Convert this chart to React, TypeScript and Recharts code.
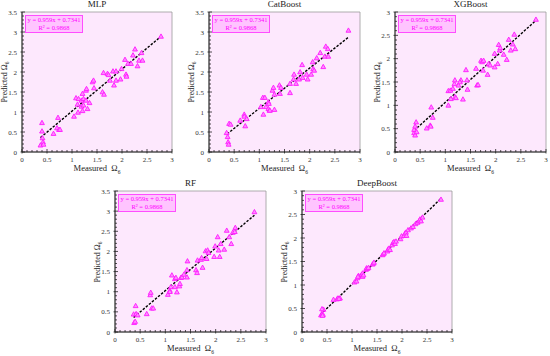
import React from "react";
import {
  ScatterChart,
  Scatter,
  XAxis,
  YAxis,
  ReferenceArea,
  ReferenceLine,
} from "recharts";

const FONT = '"Liberation Serif", "Times New Roman", serif';

const EQUATION = "y = 0.959x + 0.7341";
const R2_TEXT = "R² = 0.9868";

const X_MAX = 3;

const MLP_X = [0.37, 0.4, 0.4, 0.41, 0.42, 0.43, 0.63, 0.72, 0.7, 0.74, 0.76, 1.04, 1.08, 1.11, 1.13, 1.12, 1.19, 1.19, 1.21, 1.21, 1.23, 1.23, 1.28, 1.28, 1.29, 1.31, 1.35, 1.41, 1.43, 1.44, 1.61, 1.64, 1.63, 1.71, 1.73, 1.76, 1.82, 1.84, 1.88, 1.88, 1.97, 1.99, 2.06, 2.08, 2.09, 2.12, 2.18, 2.22, 2.26, 2.31, 2.34, 2.39, 2.41, 2.78];
const MLP_Y = [0.17, 0.73, 0.52, 0.35, 0.25, 0.19, 0.46, 0.86, 0.6, 0.56, 0.56, 0.89, 1.35, 1.19, 1.33, 0.99, 1.29, 1.14, 1.03, 1.46, 1.33, 1.17, 1.29, 1.54, 1.58, 1.08, 1.23, 1.75, 1.79, 1.6, 1.5, 1.44, 1.98, 1.96, 1.93, 1.79, 2.02, 1.67, 2.02, 1.79, 1.82, 2.08, 2.31, 1.94, 1.89, 2.21, 2.21, 2.42, 2.57, 2.15, 2.29, 2.48, 2.29, 2.89];
const MLP_FIT_X = [0.37, 2.78];
const MLP_FIT_Y = [0.36, 2.89];

const CAT_X = [0.35, 0.37, 0.38, 0.39, 0.4, 0.43, 0.62, 0.7, 0.7, 0.72, 0.75, 1.03, 1.07, 1.08, 1.11, 1.13, 1.18, 1.18, 1.19, 1.2, 1.21, 1.26, 1.28, 1.3, 1.3, 1.4, 1.43, 1.41, 1.61, 1.61, 1.68, 1.69, 1.73, 1.79, 1.81, 1.85, 1.86, 1.94, 1.96, 2.03, 2.06, 2.07, 2.09, 2.14, 2.21, 2.27, 2.3, 2.32, 2.36, 2.37, 2.77];
const CAT_Y = [0.48, 0.38, 0.25, 0.19, 0.71, 0.69, 0.79, 0.94, 0.89, 0.65, 0.83, 1.13, 1.36, 0.94, 1.36, 1.13, 1.08, 1.25, 1.21, 1.04, 1.04, 1.54, 1.61, 1.06, 1.44, 1.67, 1.61, 1.46, 1.48, 1.71, 1.82, 1.94, 1.71, 1.82, 2.0, 2.18, 1.86, 1.94, 1.82, 1.94, 2.25, 2.08, 2.04, 2.35, 2.48, 2.13, 2.39, 2.64, 2.58, 2.39, 3.04];
const CAT_FIT_X = [0.36, 2.77];
const CAT_FIT_Y = [0.45, 2.87];

const XGB_X = [0.38, 0.4, 0.38, 0.42, 0.4, 0.43, 0.63, 0.7, 0.71, 0.72, 0.75, 1.06, 1.06, 1.1, 1.11, 1.15, 1.18, 1.19, 1.19, 1.21, 1.26, 1.31, 1.29, 1.35, 1.41, 1.43, 1.44, 1.61, 1.63, 1.65, 1.71, 1.73, 1.75, 1.76, 1.84, 1.86, 1.89, 1.98, 1.98, 2.04, 2.06, 2.08, 2.09, 2.16, 2.22, 2.26, 2.3, 2.34, 2.37, 2.39, 2.8];
const XGB_Y = [0.41, 0.36, 0.48, 0.64, 0.55, 0.43, 0.51, 0.57, 0.55, 0.96, 0.74, 1.0, 1.31, 1.32, 1.14, 1.36, 1.46, 1.54, 1.18, 1.16, 1.43, 1.54, 1.5, 1.13, 1.76, 1.54, 1.34, 1.79, 1.43, 1.44, 1.96, 1.93, 1.75, 1.96, 1.66, 1.89, 1.86, 1.82, 2.11, 1.89, 2.3, 2.18, 2.23, 2.09, 1.98, 2.41, 2.18, 2.31, 2.52, 2.21, 2.84];
const XGB_FIT_X = [0.38, 2.79];
const XGB_FIT_Y = [0.46, 2.81];

const RF_X = [0.37, 0.38, 0.4, 0.41, 0.42, 0.45, 0.63, 0.7, 0.71, 0.73, 0.76, 1.05, 1.09, 1.09, 1.11, 1.13, 1.19, 1.19, 1.21, 1.23, 1.28, 1.29, 1.31, 1.33, 1.37, 1.43, 1.44, 1.43, 1.61, 1.63, 1.64, 1.71, 1.72, 1.74, 1.8, 1.82, 1.84, 1.86, 1.97, 1.99, 2.04, 2.06, 2.08, 2.1, 2.17, 2.22, 2.27, 2.31, 2.34, 2.38, 2.39, 2.77];
const RF_Y = [0.44, 0.23, 0.26, 0.65, 0.45, 0.42, 0.45, 0.92, 0.98, 0.59, 0.59, 0.93, 1.03, 1.0, 1.12, 1.41, 1.12, 1.32, 1.35, 0.99, 1.14, 1.2, 1.35, 1.36, 1.43, 1.36, 1.76, 1.54, 1.54, 1.47, 1.78, 1.8, 1.84, 1.6, 2.01, 1.82, 2.03, 1.97, 1.87, 2.13, 2.36, 2.03, 1.87, 2.19, 2.05, 2.52, 2.36, 2.19, 2.47, 2.49, 2.59, 2.98];
const RF_FIT_X = [0.37, 2.77];
const RF_FIT_Y = [0.36, 2.9];

const DEEP_X = [0.38, 0.4, 0.42, 0.41, 0.43, 0.4, 0.63, 0.7, 0.72, 0.76, 0.74, 1.05, 1.09, 1.11, 1.13, 1.12, 1.19, 1.21, 1.21, 1.23, 1.28, 1.29, 1.31, 1.33, 1.41, 1.43, 1.44, 1.61, 1.63, 1.64, 1.71, 1.72, 1.74, 1.76, 1.8, 1.82, 1.84, 1.86, 1.88, 1.97, 1.99, 2.04, 2.06, 2.08, 2.09, 2.12, 2.18, 2.22, 2.27, 2.31, 2.34, 2.36, 2.38, 2.41, 2.78];
const DEEP_Y = [0.36, 0.38, 0.37, 0.35, 0.48, 0.49, 0.69, 0.7, 0.72, 0.72, 0.71, 1.06, 1.08, 1.15, 1.2, 1.18, 1.22, 1.25, 1.18, 1.21, 1.33, 1.36, 1.35, 1.37, 1.44, 1.46, 1.48, 1.64, 1.66, 1.68, 1.72, 1.76, 1.78, 1.75, 1.85, 1.9, 1.92, 1.88, 1.93, 1.98, 2.04, 2.05, 2.1, 2.12, 2.05, 2.17, 2.21, 2.24, 2.3, 2.33, 2.36, 2.4, 2.36, 2.44, 2.82];
const DEEP_FIT_X = [0.37, 2.78];
const DEEP_FIT_Y = [0.37, 2.84];

const zip = (xs: number[], ys: number[]) =>
  xs.slice(0, Math.min(xs.length, ys.length)).map((x, i) => ({ x, y: ys[i] }));

// ticks every 0.1, labels on multiples of 0.5
const tickRange = (max: number) =>
  Array.from({ length: Math.round(max * 10) + 1 }, (_, i) => i / 10);
const isMajor = (v: number) => Math.abs(v * 2 - Math.round(v * 2)) < 1e-6;
const fmt = (v: number) => String(Math.round(v * 10) / 10);

function XTick(props: any) {
  const { x, y, payload } = props;
  const major = isMajor(payload.value);
  return (
    <g>
      <line x1={x} x2={x} y1={y - (major ? 3 : 2)} y2={y + (major ? 1.5 : 0)} stroke="#222" strokeWidth={0.8} />
      {major && (
        <text x={x} y={y + 10} textAnchor="middle" fontSize={7} fill="#333" fontFamily={FONT}>
          {fmt(payload.value)}
        </text>
      )}
    </g>
  );
}

function YTick(props: any) {
  const { x, y, payload } = props;
  const major = isMajor(payload.value);
  return (
    <g>
      <line x1={x - (major ? 1.5 : 0)} x2={x + (major ? 3 : 2)} y1={y} y2={y} stroke="#222" strokeWidth={0.8} />
      {major && (
        <text x={x - 5} y={y + 2.5} textAnchor="end" fontSize={7} fill="#333" fontFamily={FONT}>
          {fmt(payload.value)}
        </text>
      )}
    </g>
  );
}

function Tri(props: any) {
  const { cx, cy } = props;
  if (cx == null || cy == null) return null;
  return (
    <polygon
      points={`${cx},${cy - 2.5} ${cx + 2.4},${cy + 1.8} ${cx - 2.4},${cy + 1.8}`}
      fill="#ff8cff"
      stroke="#ff1aff"
      strokeWidth={0.9}
    />
  );
}

type PanelProps = {
  title: string;
  xs: number[];
  ys: number[];
  fitX: number[];
  fitY: number[];
  yMax: number;
  left: number;
  top: number;
  w: number;
  h: number;
};

const AXIS_W = 22;
const AXIS_H = 20;
const TOP_M = 12;

function Panel({ title, xs, ys, fitX, fitY, yMax, left, top, w, h }: PanelProps) {
  const data = zip(xs, ys);
  return (
    <>
      <div
        style={{
          position: "absolute",
          left: left - AXIS_W,
          top: top - TOP_M,
        }}
      >
        <ScatterChart
          width={AXIS_W + w + 4}
          height={TOP_M + h + AXIS_H}
          margin={{ top: TOP_M, right: 4, bottom: 0, left: 0 }}
        >
          <XAxis
            dataKey="x"
            type="number"
            domain={[0, X_MAX]}
            ticks={tickRange(X_MAX)}
            interval={0}
            tickLine={false}
            tickSize={0}
            tickMargin={0}
            tick={XTick}
            axisLine={{ stroke: "#222", strokeWidth: 1 }}
            height={AXIS_H}
            allowDataOverflow
          />
          <YAxis
            dataKey="y"
            type="number"
            domain={[0, yMax]}
            ticks={tickRange(yMax)}
            interval={0}
            tickLine={false}
            tickSize={0}
            tickMargin={0}
            tick={YTick}
            axisLine={{ stroke: "#222", strokeWidth: 1 }}
            width={AXIS_W}
            allowDataOverflow
          />
          <ReferenceArea
            x1={0}
            x2={X_MAX}
            y1={0}
            y2={yMax}
            fill="#fde8fd"
            fillOpacity={1}
            stroke="#9a9a9a"
            strokeWidth={0.8}
          />
          <Scatter data={data} shape={Tri} isAnimationActive={false} />
          <ReferenceLine
            segment={[
              { x: fitX[0], y: fitY[0] },
              { x: fitX[1], y: fitY[1] },
            ]}
            stroke="#000"
            strokeWidth={1.4}
            strokeDasharray="2.5 1.5"
          />
        </ScatterChart>
      </div>
      <div
        style={{
          position: "absolute",
          left,
          top: top - 13,
          width: w,
          textAlign: "center",
          fontSize: 9,
          lineHeight: "10px",
          color: "#222",
          fontFamily: FONT,
        }}
      >
        {title}
      </div>
      <div
        style={{
          position: "absolute",
          left: left + 3,
          top: top + 3,
          width: 56,
          height: 16,
          border: "1px solid #ff4dff",
          background: "#ffc4ff",
          color: "#ff00ff",
          fontSize: 6.5,
          lineHeight: "8px",
          textAlign: "center",
          fontFamily: FONT,
          whiteSpace: "nowrap",
        }}
      >
        <div>{EQUATION}</div>
        <div>{R2_TEXT}</div>
      </div>
      <div
        style={{
          position: "absolute",
          left: left - 16,
          top: top + h / 2,
          width: h,
          transform: "translate(-50%, -50%) rotate(-90deg)",
          textAlign: "center",
          fontSize: 8,
          lineHeight: "10px",
          color: "#222",
          fontFamily: FONT,
          whiteSpace: "nowrap",
        }}
      >
        Predicted Ω<sub style={{ fontSize: 5.5 }}>6</sub>
      </div>
      <div
        style={{
          position: "absolute",
          left,
          top: top + h + 11,
          width: w,
          textAlign: "center",
          fontSize: 8.5,
          lineHeight: "10px",
          color: "#222",
          fontFamily: FONT,
          whiteSpace: "nowrap",
        }}
      >
        Measured&nbsp; Ω<sub style={{ fontSize: 5.5 }}>6</sub>
      </div>
    </>
  );
}

export default function App() {
  return (
    <div
      style={{
        position: "absolute",
        left: 0,
        top: 0,
        width: 550,
        height: 356,
        background: "#fff",
        overflow: "hidden",
      }}
    >
      <Panel title="MLP" xs={MLP_X} ys={MLP_Y} fitX={MLP_FIT_X} fitY={MLP_FIT_Y} yMax={3.5} left={22} top={12} w={150} h={140} />
      <Panel title="CatBoost" xs={CAT_X} ys={CAT_Y} fitX={CAT_FIT_X} fitY={CAT_FIT_Y} yMax={3.5} left={209} top={12} w={151} h={140} />
      <Panel title="XGBoost" xs={XGB_X} ys={XGB_Y} fitX={XGB_FIT_X} fitY={XGB_FIT_Y} yMax={3} left={395} top={12} w={151} h={140} />
      <Panel title="RF" xs={RF_X} ys={RF_Y} fitX={RF_FIT_X} fitY={RF_FIT_Y} yMax={3.5} left={115} top={191} w={151} h={141} />
      <Panel title="DeepBoost" xs={DEEP_X} ys={DEEP_Y} fitX={DEEP_FIT_X} fitY={DEEP_FIT_Y} yMax={3} left={302} top={191} w={150} h={141} />
    </div>
  );
}
